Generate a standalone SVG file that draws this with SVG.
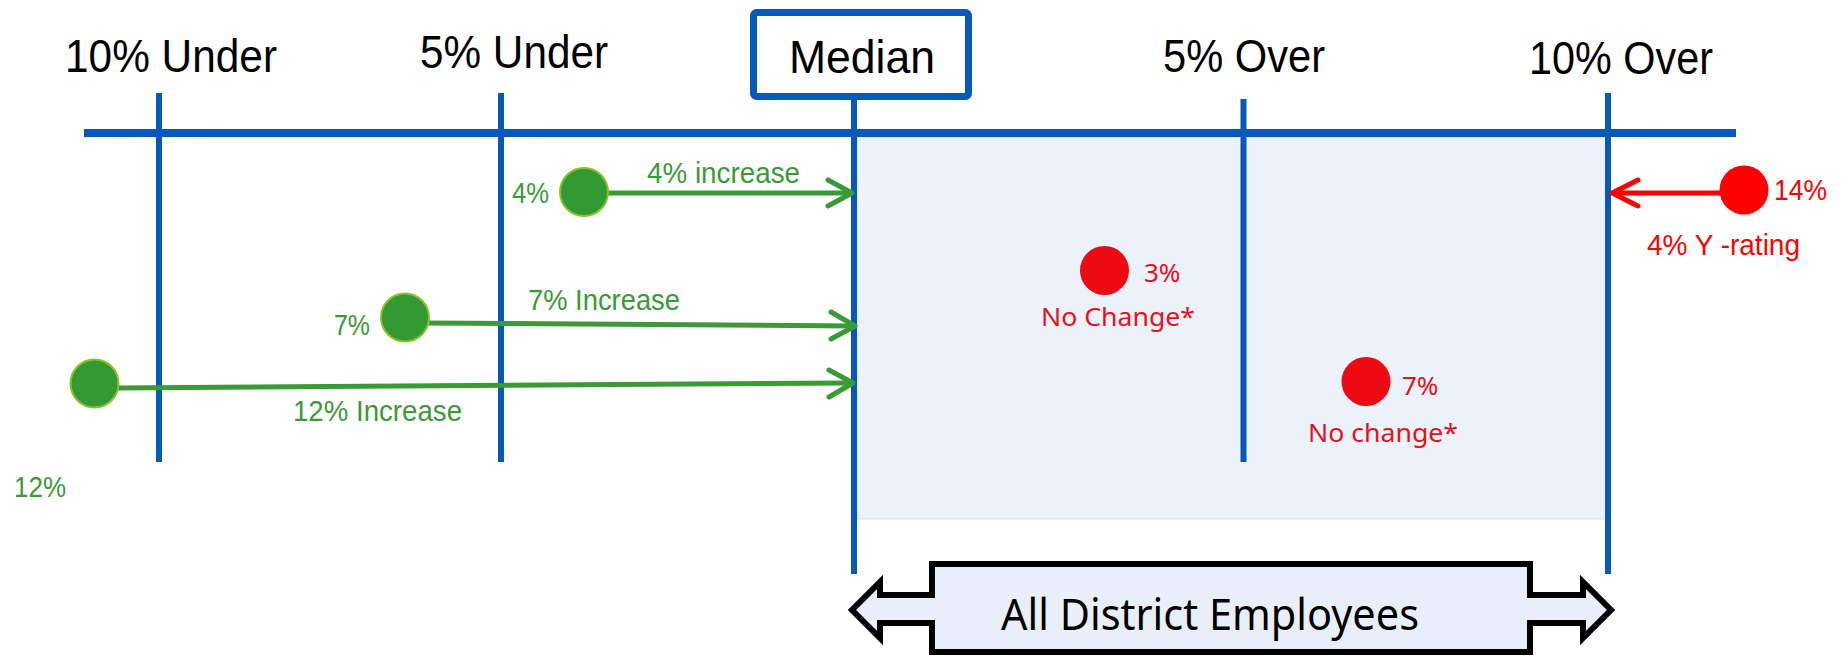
<svg xmlns="http://www.w3.org/2000/svg" width="1848" height="656" viewBox="0 0 1848 656">
  <defs>
    <style>
      .grid { stroke: #0658B9; fill: none; }
      .head { font-family: "Liberation Sans Narrow", "Liberation Sans", Arial, sans-serif; font-size: 46px; fill: #000; text-anchor: middle; }
      .gtxt { font-family: "Liberation Sans Narrow", "Liberation Sans", Arial, sans-serif; font-size: 29px; fill: #3A9A37; }
      .rtxt { font-family: "Liberation Sans Narrow", "Liberation Sans", Arial, sans-serif; font-size: 29px; fill: #FF0000; }
      .ctxt { font-family: "Noto Sans", "Open Sans", sans-serif; font-size: 26px; fill: #E8101A; }
      .gdot { fill: #339933; stroke: #86C42A; stroke-width: 2; }
      .rdot { fill: #EE0A12; }
      .garrow { stroke: #3A9A35; stroke-width: 5; fill: none; stroke-linecap: round; stroke-linejoin: round; }
      .rarrow { stroke: #FF0000; stroke-width: 5; fill: none; stroke-linecap: round; stroke-linejoin: round; }
    </style>
  </defs>

  <rect width="1848" height="656" fill="#FFFFFF"/>

  <!-- shaded band to the right of the median -->
  <rect x="857" y="137" width="749" height="382" fill="#EBF2FA" stroke="#D3E2F4" stroke-width="1"/>

  <!-- axis and percentile markers -->
  <g id="axis">
    <line class="grid" x1="84" y1="133" x2="1736" y2="133" stroke-width="8"/>
    <line class="grid" x1="159" y1="93" x2="159" y2="462" stroke-width="6"/>
    <line class="grid" x1="501" y1="93" x2="501" y2="462" stroke-width="6"/>
    <line class="grid" x1="854" y1="100" x2="854" y2="574" stroke-width="6"/>
    <line class="grid" x1="1243.5" y1="99" x2="1243.5" y2="462" stroke-width="6"/>
    <line class="grid" x1="1608" y1="93" x2="1608" y2="574" stroke-width="6"/>
  </g>

  <!-- column headings -->
  <g id="headings">
    <text class="head" x="171" y="72" textLength="212" lengthAdjust="spacingAndGlyphs">10% Under</text>
    <text class="head" x="514" y="68" textLength="188" lengthAdjust="spacingAndGlyphs">5% Under</text>
    <text class="head" x="1244" y="72" textLength="162" lengthAdjust="spacingAndGlyphs">5% Over</text>
    <text class="head" x="1621" y="74" textLength="184" lengthAdjust="spacingAndGlyphs">10% Over</text>
  </g>

  <g id="median">
    <rect x="753.5" y="12.5" width="215" height="84" rx="3" fill="#FFFFFF" stroke="#0658B9" stroke-width="7"/>
    <text class="head" x="862" y="73" textLength="146" lengthAdjust="spacingAndGlyphs">Median</text>
  </g>

  <!-- connectors -->
  <g id="connectors">
    <line class="garrow" x1="606" y1="193" x2="851" y2="193"/>
    <polyline class="garrow" points="828,180 852,193 828,206"/>
    <line class="garrow" x1="428" y1="323" x2="853" y2="326"/>
    <polyline class="garrow" points="831,312 855,326 831,339"/>
    <line class="garrow" x1="118" y1="388" x2="851" y2="383"/>
    <polyline class="garrow" points="829,370 853,383 829,397"/>
    <line class="rarrow" x1="1722" y1="193" x2="1613" y2="193"/>
    <polyline class="rarrow" points="1638,180 1612,193 1638,206"/>
  </g>

  <!-- employees below the median -->
  <g id="emp-4">
    <circle class="gdot" cx="584" cy="192" r="24"/>
    <text class="gtxt" x="512" y="203" textLength="37" lengthAdjust="spacingAndGlyphs">4%</text>
    <text class="gtxt" x="647" y="183" textLength="153" lengthAdjust="spacingAndGlyphs">4% increase</text>
  </g>
  <g id="emp-7">
    <circle class="gdot" cx="405" cy="317.5" r="24"/>
    <text class="gtxt" x="334" y="335" textLength="36" lengthAdjust="spacingAndGlyphs">7%</text>
    <text class="gtxt" x="528" y="310" textLength="152" lengthAdjust="spacingAndGlyphs">7% Increase</text>
  </g>
  <g id="emp-12">
    <circle class="gdot" cx="94.5" cy="383.5" r="24"/>
    <text class="gtxt" x="14" y="497" textLength="52" lengthAdjust="spacingAndGlyphs">12%</text>
    <text class="gtxt" x="293" y="421" textLength="169" lengthAdjust="spacingAndGlyphs">12% Increase</text>
  </g>

  <!-- employees above the median -->
  <g id="emp-14">
    <circle cx="1744" cy="190" r="24.5" fill="#FF0000"/>
    <text class="rtxt" x="1774" y="200" textLength="53" lengthAdjust="spacingAndGlyphs">14%</text>
    <text class="rtxt" x="1647" y="255" textLength="153" lengthAdjust="spacingAndGlyphs">4% Y -rating</text>
  </g>
  <g id="emp-3">
    <circle class="rdot" cx="1104.5" cy="270.5" r="24.5"/>
    <text class="ctxt" x="1144" y="282">3%</text>
    <text class="ctxt" x="1041" y="326" textLength="154" lengthAdjust="spacingAndGlyphs">No Change*</text>
  </g>
  <g id="emp-7-over">
    <circle class="rdot" cx="1366" cy="381.5" r="24.5"/>
    <text class="ctxt" x="1402" y="395">7%</text>
    <text class="ctxt" x="1308" y="442" textLength="150" lengthAdjust="spacingAndGlyphs">No change*</text>
  </g>

  <!-- range callout -->
  <g id="all-employees">
    <path d="M 932 564 H 1530 V 595 H 1583 V 582 L 1611 610 L 1583 638 V 623 H 1530 V 652 H 932 V 623 H 880 V 638 L 852 610 L 880 582 V 595 H 932 Z" fill="#E8EFF9" stroke="#000000" stroke-width="6" stroke-linejoin="miter"/>
    <text x="1001" y="630" font-family="Noto Sans, Open Sans, sans-serif" font-size="44" fill="#000" textLength="418" lengthAdjust="spacingAndGlyphs">All District Employees</text>
  </g>
</svg>
